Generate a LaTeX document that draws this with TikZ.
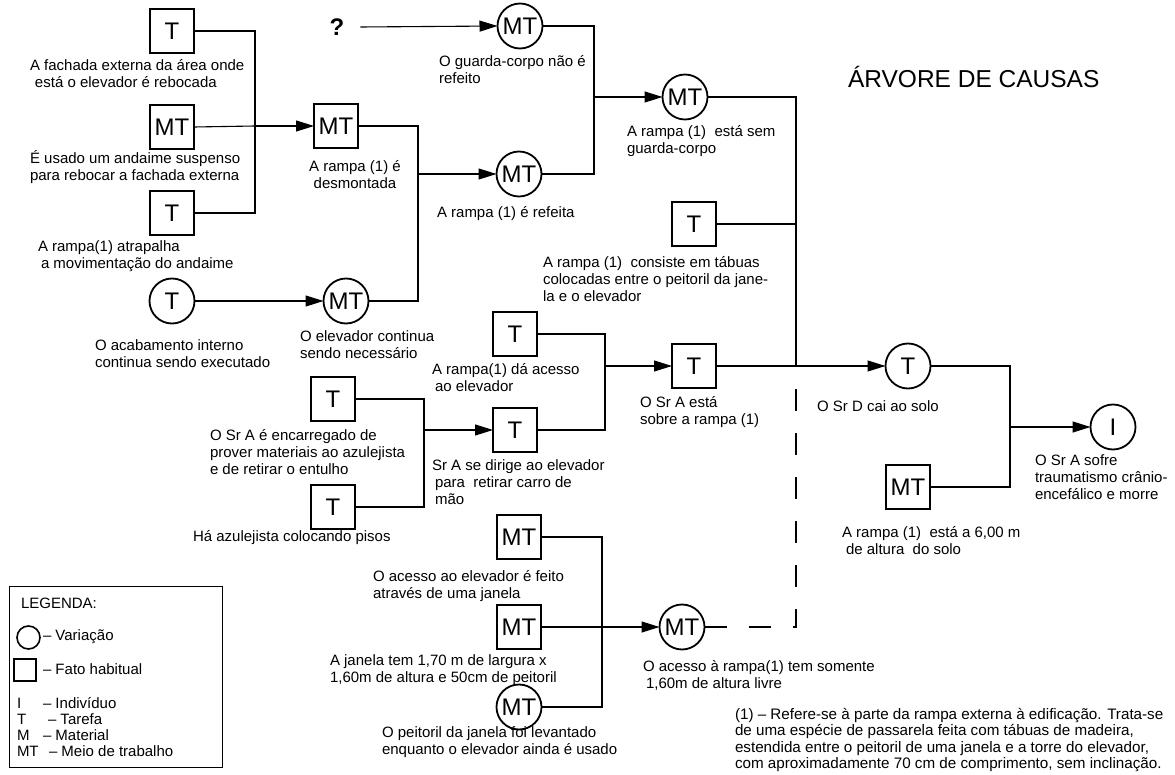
\documentclass[tikz,border=0pt]{standalone}
\usepackage{fontspec}
\setmainfont{Liberation Sans}
\usetikzlibrary{arrows.meta}
\newcommand\lblfont{\fontsize{15}{17}\selectfont}
\newcommand\symfont{\fontsize{24}{24}\selectfont}
\begin{document}
\begin{tikzpicture}[x=1pt,y=-1pt,
  every node/.style={inner sep=0pt, outer sep=0pt},
  fact/.style={draw, line width=1.8pt, minimum width=44pt, minimum height=44pt, font=\symfont},
  vary/.style={draw, circle, line width=1.8pt, minimum size=45pt, font=\symfont},
  lbl/.style={anchor=north west, align=left, font=\lblfont, execute at begin node=\strut},
  lblc/.style={lbl, anchor=north, align=center},
  key/.style={anchor=base west, font=\lblfont},
  wire/.style={line width=1.1pt},
  feed/.style={wire, -{Triangle[length=18pt,width=11pt]}},
  dashwire/.style={wire, dash pattern=on 22pt off 22pt},
]
\useasboundingbox (0,0) rectangle (1175,775);

% ---- fact / variation nodes ----
\node[fact] (f1) at (172,31) {T};
\node[fact] (f2) at (172,127) {MT};
\node[fact] (f3) at (172,213) {T};
\node[vary] (v1) at (172,301) {T};
\node[fact] (n1) at (336,126) {MT};
\node[vary] (v2) at (346,301) {MT};
\node[font=\bfseries\symfont] (q) at (337,27) {?};
\node[vary] (c1) at (520,26) {MT};
\node[vary] (c2) at (519,174) {MT};
\node[vary] (c3) at (685,97) {MT};
\node[fact] (t1) at (694,224) {T};
\node[fact] (b1) at (515,334) {T};
\node[fact] (b2) at (515,430) {T};
\node[fact] (b3) at (333,399) {T};
\node[fact] (b4) at (333,507) {T};
\node[fact] (b5) at (694,366) {T};
\node[vary] (d1) at (908,366) {T};
\node[fact] (d2) at (908,487) {MT};
\node[vary] (d3) at (1113,427) {I};
\node[fact] (m1) at (519,537) {MT};
\node[fact] (m2) at (519,627) {MT};
\node[vary] (m3) at (519,707) {MT};
\node[vary] (m4) at (682,627) {MT};

% ---- junction points ----
\coordinate (j1) at (255,126);
\coordinate (j2) at (418,174);
\coordinate (j3) at (594,97);
\coordinate (j4) at (796,366);
\coordinate (j5) at (605,366);
\coordinate (j6) at (424,430);
\coordinate (j7) at (1010,427);
\coordinate (j8) at (602,627);

% ---- connectors ----
\draw[wire] (f1.east) -| (j1) |- (f3.east);
\draw[wire] (f2.east) -- (j1);
\draw[feed] (j1) -- (n1.west);

\draw[feed] (v1.east) -- (v2.west);
\draw[wire] (n1.east) -| (j2);
\draw[wire] (v2.east) -| (j2);
\draw[feed] (j2) -- (c2.west);

\draw[feed] ([xshift=16pt]q.east) -- (c1.west);
\draw[wire] (c1.east) -| (j3);
\draw[wire] (c2.east) -| (j3);
\draw[feed] (j3) -- (c3.west);

\draw[wire] (c3.east) -| (j4);
\draw[wire] (t1.east) -| (j4);
\draw[wire] (b5.east) -- (j4);
\draw[feed] (j4) -- (d1.west);

\draw[wire] (b1.east) -| (j5);
\draw[wire] (b2.east) -| (j5);
\draw[feed] (j5) -- (b5.west);

\draw[wire] (b3.east) -| (j6);
\draw[wire] (b4.east) -| (j6);
\draw[feed] (j6) -- (b2.west);

\draw[wire] (d1.east) -| (j7);
\draw[wire] (d2.east) -| (j7);
\draw[feed] (j7) -- (d3.west);

\draw[wire] (m1.east) -| (j8);
\draw[wire] (m3.east) -| (j8);
\draw[wire] (m2.east) -- (j8);
\draw[feed] (j8) -- (m4.west);
\draw[dashwire] (m4.east) -| (j4);

% ---- captions ----
\node[lbl] (l1) at (30,59) {A fachada externa da área onde\\\hspace{5pt}está o elevador é rebocada};
\node[lbl] (l2) at (30,150) {É usado um andaime suspenso\\para rebocar a fachada externa};
\node[lbl] (l3) at (38,241) {A rampa(1) atrapalha\\\hspace{3pt}a movimentação do andaime};
\node[lbl] (l4) at (95,340) {O acabamento interno\\continua sendo executado};
\node[lbl] (l5) at (300,331) {O elevador continua\\sendo necessário};
\node[lblc] (l6) at (355,160) {A rampa (1) é\\desmontada};
\node[lbl] (l7) at (439,55) {O guarda-corpo não é\\refeito};
\node[lbl] (l8) at (437,206) {A rampa (1) é refeita};
\node[lbl] (l9) at (627,125) {A rampa (1)\ \ está sem\\guarda-corpo};
\node[lbl] (l10) at (543,256) {A rampa (1)\ \ consiste em tábuas\\colocadas entre o peitoril da jane-\\la e o elevador};
\node[lbl] (l11) at (432,363) {A rampa(1) dá acesso\\\hspace{3pt}ao elevador};
\node[lbl] (l12) at (432,460) {Sr A se dirige ao elevador\\\hspace{3pt}para\ \ retirar carro de\\\hspace{3pt}mão};
\node[lbl] (l13) at (640,396) {O Sr A está\\sobre a rampa (1)};
\node[lbl] (l14) at (210,429) {O Sr A é encarregado de\\prover materiais ao azulejista\\e de retirar o entulho};
\node[lbl] (l15) at (193,530) {Há azulejista colocando pisos};
\node[lbl] (l16) at (817,400) {O Sr D cai ao solo};
\node[lbl] (l17) at (1035,455) {O Sr A sofre\\traumatismo crânio-\\encefálico e morre};
\node[lbl] (l18) at (842,526) {A rampa (1)\ \ está a 6,00 m\\\hspace{4pt}de altura\ \ do solo};
\node[lbl] (l19) at (373,570) {O acesso ao elevador é feito\\através de uma janela};
\node[lbl] (l20) at (330,655) {A janela tem 1,70 m de largura x\\1,60m de altura e 50cm de peitoril};
\node[lbl] (l21) at (382,727) {O peitoril da janela foi levantado\\enquanto o elevador ainda é usado};
\node[lbl] (l22) at (643,660) {O acesso à rampa(1) tem somente\\\hspace{3pt}1,60m de altura livre};
\node[lbl, font=\fontsize{15.2}{16.5}\selectfont] (note) at (735,708) {(1) – Refere-se à parte da rampa externa à edificação. Trata-se\\de uma espécie de passarela feita com tábuas de madeira,\\estendida entre o peitoril de uma janela e a torre do elevador,\\com aproximadamente 70 cm de comprimento, sem inclinação.};

% ---- title ----
\node[anchor=base west, font=\fontsize{24.5}{26}\selectfont] (title) at (848,88) {ÁRVORE DE CAUSAS};

% ---- legend ----
\node[draw, line width=0.9pt, anchor=north west, minimum width=213pt, minimum height=181pt] (legend) at (9,586) {};
\node[key] (lgt) at (21,608) {LEGENDA:};
\node[draw, circle, line width=1.6pt, minimum size=23pt] (lgc) at (28.5,637.5) {};
\node[key] (lgct) at (43,640) {– Variação};
\node[draw, line width=1.6pt, minimum size=22pt] (lgs) at (25,670) {};
\node[key] (lgst) at (43,674) {– Fato habitual};
\node[key] (k1) at (17,708) {I};
\node[key] (k1t) at (43,708) {– Indivíduo};
\node[key] (k2) at (17,724) {T};
\node[key] (k2t) at (48,724) {– Tarefa};
\node[key] (k3) at (17,740) {M};
\node[key] (k3t) at (43,740) {– Material};
\node[key] (k4) at (17,756) {MT};
\node[key] (k4t) at (49,756) {– Meio de trabalho};
\end{tikzpicture}
\end{document}
